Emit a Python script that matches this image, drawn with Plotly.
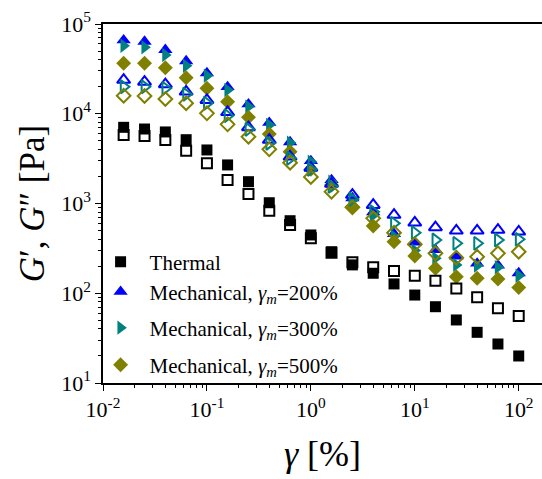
import plotly.graph_objects as go

strain = [0.0158, 0.0251, 0.0398, 0.0631, 0.1, 0.158, 0.251, 0.398, 0.631, 1.0,
          1.58, 2.51, 3.98, 6.31, 10, 15.8, 25.1, 39.8, 63.1, 100]

thermal_Gp = [7060, 6760, 6270, 5140, 3950, 2690, 1750, 1020, 643, 446,
              290, 207, 167, 127, 95.5, 70.8, 50.4, 36.7, 27.2, 20.0]
thermal_Gpp = [5800, 5650, 5100, 3870, 2800, 1830, 1276, 832, 575, 410,
               283, 221, 195, 177, 157, 138, 113, 90, 68, 55.8]

m200_Gp = [66000, 63800, 51500, 38700, 28400, 19900, 12800, 7940, 4840, 2980,
           1830, 1150, 800, 460, 370, 305, 258, 215, 205, 168]
m200_Gpp = [23800, 22700, 21300, 17600, 14200, 10400, 7060, 5110, 3330, 2500,
            1650, 1245, 962, 745, 611, 543, 498, 498, 507, 485]

m300_Gp = [57300, 55000, 45200, 34300, 26500, 18400, 12000, 7500, 4760, 2930,
           1750, 1080, 740, 430, 300, 246, 207, 203, 195, 157]
m300_Gpp = [20000, 20000, 19200, 16500, 13100, 9520, 6710, 4690, 3190, 2400,
            1550, 1115, 811, 601, 473, 392, 360, 360, 392, 399]

m500_Gp = [36500, 36500, 32600, 25200, 19200, 13600, 9120, 5940, 3780, 2400,
           1610, 920, 561, 375, 260, 190, 153, 147, 144, 116]
m500_Gpp = [15900, 15800, 14600, 13100, 10100, 7620, 5550, 4020, 2850, 1975,
            1355, 908, 684, 473, 351, 279, 249, 255, 279, 290]

legend_names = ["Thermal",
                "Mechanical, <i>γ<sub>m</sub></i>=200%",
                "Mechanical, <i>γ<sub>m</sub></i>=300%",
                "Mechanical, <i>γ<sub>m</sub></i>=500%"]

x_tickvals = [0.01, 0.1, 1, 10, 100]
x_ticktext = ["10<sup>-2</sup>", "10<sup>-1</sup>", "10<sup>0</sup>", "10<sup>1</sup>", "10<sup>2</sup>"]
y_tickvals = [10, 100, 1000, 10000, 100000]
y_ticktext = ["10<sup>1</sup>", "10<sup>2</sup>", "10<sup>3</sup>", "10<sup>4</sup>", "10<sup>5</sup>"]

BLACK = "#000000"
BLUE = "#0000FF"
TEAL = "#008080"
OLIVE = "#808000"

FONT = "Liberation Serif"

fig = go.Figure()

def add(y, name, symbol, color, size, show, lw=0, legend="legend"):
    fig.add_trace(go.Scatter(
        x=strain, y=y, mode="markers", name=name, showlegend=show, legend=legend,
        marker=dict(symbol=symbol, color=color, size=size,
                    line=dict(width=lw, color=color)),
    ))

# storage moduli (filled)
add(thermal_Gp, legend_names[0], "square", BLACK, 11, True, legend="legend")
add(m200_Gp, legend_names[1], "triangle-up", BLUE, 12.5, True, legend="legend2")
add(m300_Gp, legend_names[2], "triangle-right", TEAL, 12.5, True, legend="legend3")
add(m500_Gp, legend_names[3], "diamond", OLIVE, 11.5, True, legend="legend4")
# loss moduli (open)
add(thermal_Gpp, "G'' thermal", "square-open", BLACK, 10, False, 2)
add(m200_Gpp, "G'' 200", "triangle-up-open", BLUE, 11.5, False, 2)
add(m300_Gpp, "G'' 300", "triangle-right-open", TEAL, 11.5, False, 2)
add(m500_Gpp, "G'' 500", "diamond-open", OLIVE, 10.5, False, 2)

def leg(ypix):
    return dict(x=-0.026, y=(383 - ypix) / 359.0, xanchor="left", yanchor="middle",
                bgcolor="rgba(0,0,0,0)", borderwidth=0,
                font=dict(family=FONT, size=21, color=BLACK),
                itemwidth=48)

fig.update_layout(
    width=542, height=479,
    margin=dict(l=103, r=0, t=24, b=96),
    paper_bgcolor="white", plot_bgcolor="white",
    font=dict(family=FONT, color=BLACK, size=22),
    showlegend=True,
    legend=leg(262), legend2=leg(292), legend3=leg(328), legend4=leg(365),
    xaxis=dict(
        type="log", range=[-2, 2.224],
        showline=True, linecolor=BLACK, linewidth=1.5, mirror=True,
        showgrid=False, zeroline=False,
        ticks="outside", ticklen=6, tickwidth=1.2, tickcolor=BLACK,
        tickmode="array", tickvals=x_tickvals, ticktext=x_ticktext,
        tickfont=dict(family=FONT, size=22, color=BLACK),
        minor=dict(ticks="outside", ticklen=3.5, tickwidth=1, tickcolor=BLACK, dtick="D1", showgrid=False),
        title=dict(text="<i>γ</i> [%]", font=dict(family=FONT, size=36, color=BLACK), standoff=20),
    ),
    yaxis=dict(
        type="log", range=[1, 5],
        showline=True, linecolor=BLACK, linewidth=1.5, mirror=False,
        showgrid=False, zeroline=False,
        ticks="outside", ticklen=6, tickwidth=1.2, tickcolor=BLACK,
        tickmode="array", tickvals=y_tickvals, ticktext=y_ticktext,
        tickfont=dict(family=FONT, size=22, color=BLACK),
        minor=dict(ticks="outside", ticklen=3.5, tickwidth=1, tickcolor=BLACK, dtick="D1", showgrid=False),
        title=dict(text="<i>G</i>′, <i>G</i>″ [Pa]", font=dict(family=FONT, size=35, color=BLACK), standoff=6),
    ),
)

fig.write_html("out.html")
